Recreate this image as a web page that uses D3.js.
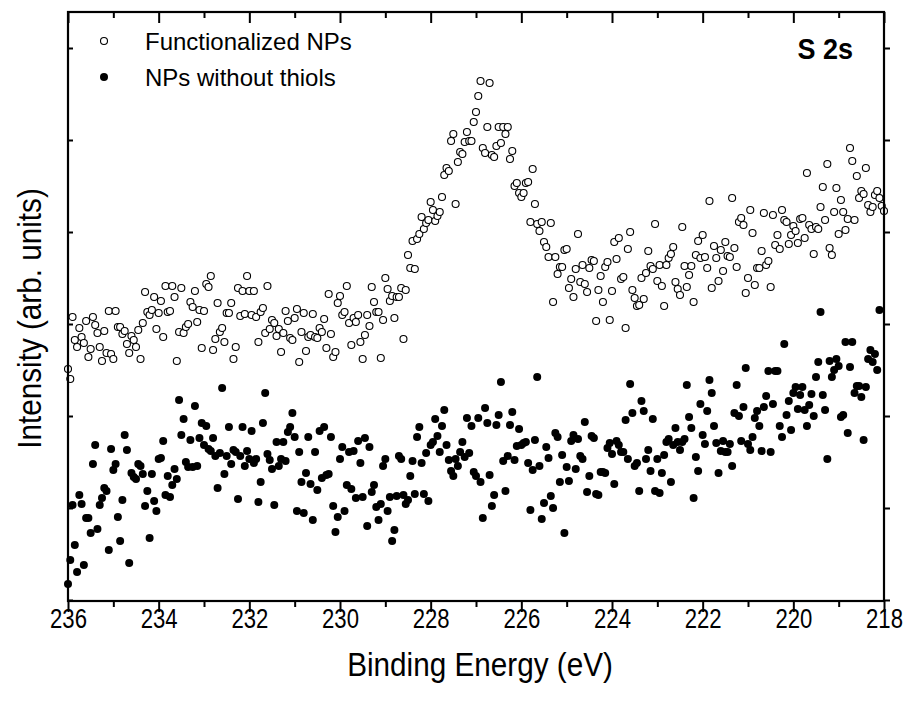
<!DOCTYPE html>
<html>
<head>
<meta charset="utf-8">
<script src="https://cdn.jsdelivr.net/npm/d3@7"></script>
<style>
  body { margin: 0; background: #fff; }
  text { font-family: "Liberation Sans", Arial, sans-serif; fill: #000; }
</style>
</head>
<body>
<script>
// XPS S 2s spectra, energy grid starts at 236 eV going down in 0.05 eV steps
var energyStart = 236;
var energyStep = 0.05;

// Intensity (arb. units) of functionalized NPs
var functionalized = [
  231,221,283,260,253,272,263,257,279,243,251,283,275,267,253,239,269,247,289,246,
  241,289,273,273,266,269,256,247,264,260,253,270,241,277,308,288,285,290,303,271,
  287,299,263,314,288,289,314,303,239,268,312,267,273,276,298,293,309,278,290,252,
  289,316,313,324,250,261,297,268,272,258,287,287,297,241,253,312,284,309,286,324,
  309,285,309,283,258,288,292,267,314,271,280,277,264,271,248,267,289,279,262,260,
  282,291,238,268,287,249,263,265,286,263,262,272,268,281,252,306,266,243,248,297,
  304,285,288,314,277,255,282,278,285,258,241,265,285,274,313,298,288,288,242,280,
  322,311,299,304,282,303,303,312,261,310,345,332,359,331,361,366,383,371,377,380,
  398,390,379,384,388,403,425,432,429,459,466,396,438,448,446,458,468,459,459,478,
  488,504,519,452,447,473,517,445,443,454,473,457,473,466,473,441,449,414,417,407,
  403,407,417,418,378,431,396,376,369,378,358,353,343,377,298,343,326,333,333,350,
  351,312,321,303,331,366,318,335,316,308,332,340,339,279,310,324,298,333,338,280,
  309,358,341,362,321,323,272,351,368,310,302,294,295,322,301,327,349,334,331,376,
  319,335,314,294,335,342,346,353,318,311,305,373,334,313,325,334,298,345,359,342,
  365,343,332,399,312,354,342,319,350,329,358,344,343,402,352,333,378,382,375,307,
  322,390,367,315,332,332,349,387,335,339,313,385,355,365,351,390,380,378,356,365,
  374,369,357,381,382,362,427,375,371,346,373,371,393,413,380,436,352,345,388,412,
  366,400,388,370,381,452,439,380,424,402,409,406,432,395,388,393,405,409,402,394,
  389
];

// Intensity (arb. units) of NPs without thiols
var withoutThiols = [
  16,40,95,55,28,105,96,35,82,82,67,136,155,71,95,102,112,109,50,151,
  130,136,83,59,100,165,150,37,127,123,121,136,134,126,94,109,62,126,99,89,
  141,142,159,105,124,103,115,131,121,200,165,181,138,133,160,133,194,134,162,177,
  155,174,151,149,162,144,112,147,212,126,144,173,136,150,148,101,144,173,134,149,
  141,169,137,141,98,118,177,207,146,140,131,95,158,134,141,158,139,168,173,187,
  163,89,148,118,87,127,163,116,80,148,110,169,122,173,125,126,163,94,68,83,
  141,153,89,115,148,111,149,102,159,137,103,162,74,153,108,115,93,80,96,134,
  141,89,103,59,70,104,144,141,105,96,100,124,139,106,163,173,137,106,147,99,
  155,158,181,164,148,174,190,155,140,129,124,141,134,148,158,143,182,147,174,128,
  124,182,118,82,192,177,125,94,105,175,185,218,139,109,144,175,188,140,154,171,
  155,157,158,137,90,130,160,223,134,81,97,153,142,104,92,167,163,118,145,67,
  133,119,159,165,131,161,144,141,178,108,124,164,162,106,105,128,128,127,152,157,
  146,116,159,155,148,148,180,141,216,187,134,137,109,199,189,141,150,129,181,109,
  141,107,127,145,158,161,118,155,172,158,150,158,161,215,183,172,102,143,129,196,
  165,156,189,220,207,174,157,127,149,159,148,148,156,134,187,215,184,159,193,232,
  156,150,163,182,189,174,149,193,204,229,148,196,229,229,174,163,256,185,199,170,
  207,213,191,205,213,190,174,195,206,184,223,238,288,205,190,141,239,223,230,241,
  234,183,185,258,167,233,258,207,214,214,203,160,213,241,250,238,246,230,290
];

var xTicksMajor = [236, 234, 232, 230, 228, 226, 224, 222, 220, 218];
var xTicksMinor = [235, 233, 231, 229, 227, 225, 223, 221, 219];
var yTicks = [0, 92, 184, 276, 368, 460, 552];

var legendLabels = ["Functionalized NPs", "NPs without thiols"];

var svgWidth = 910;
var svgHeight = 704;
var margin = { top: 12, right: 26, bottom: 103, left: 68 };
var width = svgWidth - margin.left - margin.right;
var height = svgHeight - margin.top - margin.bottom;

var svg = d3.select("body").append("svg")
  .attr("width", svgWidth)
  .attr("height", svgHeight);

var g = svg.append("g")
  .attr("transform", `translate(${margin.left},${margin.top})`);

var x = d3.scaleLinear().domain([236, 218]).range([0, width]);
var y = d3.scaleLinear().domain([-1, 588]).range([height, 0]);

function toPoints(values) {
  return values.map(function(v, i) {
    return { e: energyStart - i * energyStep, v: v };
  });
}

// data
g.selectAll(".filled")
  .data(toPoints(withoutThiols))
  .enter().append("circle")
  .attr("class", "filled")
  .attr("cx", d => x(d.e))
  .attr("cy", d => y(d.v))
  .attr("r", 4)
  .attr("fill", "#000");

g.selectAll(".open")
  .data(toPoints(functionalized))
  .enter().append("circle")
  .attr("class", "open")
  .attr("cx", d => x(d.e))
  .attr("cy", d => y(d.v))
  .attr("r", 3.5)
  .attr("fill", "#fff")
  .attr("stroke", "#000")
  .attr("stroke-width", 1.1);

// axes: all ticks point the same way (down / right)
function styleAxis(sel) {
  sel.select(".domain").remove();
  sel.selectAll(".tick line").attr("stroke", "#000").attr("stroke-width", 2);
}

var bottomMajor = g.append("g")
  .attr("transform", `translate(0,${height})`)
  .call(d3.axisBottom(x).tickValues(xTicksMajor).tickSize(11).tickPadding(-3).tickFormat(d3.format("d")));
styleAxis(bottomMajor);
// narrow-looking tick labels
bottomMajor.selectAll("text")
  .attr("font-size", 27)
  .attr("font-family", "Liberation Sans, Arial, sans-serif")
  .attr("transform", "scale(0.82,1)");

var bottomMinor = g.append("g")
  .attr("transform", `translate(0,${height})`)
  .call(d3.axisBottom(x).tickValues(xTicksMinor).tickSize(6).tickFormat(""));
styleAxis(bottomMinor);

var topMajor = g.append("g")
  .call(d3.axisBottom(x).tickValues(xTicksMajor).tickSize(11).tickFormat(""));
styleAxis(topMajor);
var topMinor = g.append("g")
  .call(d3.axisBottom(x).tickValues(xTicksMinor).tickSize(6).tickFormat(""));
styleAxis(topMinor);

var leftAxis = g.append("g")
  .call(d3.axisRight(y).tickValues(yTicks).tickSize(5).tickFormat(""));
styleAxis(leftAxis);
var rightAxis = g.append("g")
  .attr("transform", `translate(${width},0)`)
  .call(d3.axisRight(y).tickValues(yTicks).tickSize(6).tickFormat(""));
styleAxis(rightAxis);

// frame
g.append("rect")
  .attr("width", width)
  .attr("height", height)
  .attr("fill", "none")
  .attr("stroke", "#000")
  .attr("stroke-width", 2.2);

// axis titles
svg.append("g")
  .attr("transform", `translate(${margin.left + width / 2 + 4},676) scale(0.9,1)`)
  .append("text")
  .attr("text-anchor", "middle")
  .attr("font-size", 33)
  .text("Binding Energy (eV)");

svg.append("g")
  .attr("transform", `translate(41,${margin.top + height / 2 + 12}) rotate(-90) scale(0.9,1)`)
  .append("text")
  .attr("text-anchor", "middle")
  .attr("font-size", 33)
  .text("Intensity (arb. units)");

// legend
var legend = svg.append("g");
legendLabels.forEach(function(label, i) {
  var ly = 41 + i * 36;
  legend.append("circle")
    .attr("cx", 104)
    .attr("cy", ly)
    .attr("r", i === 0 ? 3.5 : 4)
    .attr("fill", i === 0 ? "#fff" : "#000")
    .attr("stroke", "#000")
    .attr("stroke-width", i === 0 ? 1.1 : 0);
  legend.append("text")
    .attr("x", 145)
    .attr("y", ly + 9)
    .attr("font-size", 24)
    .text(label);
});

svg.append("g")
  .attr("transform", "translate(853,59) scale(0.9,1)")
  .append("text")
  .attr("text-anchor", "end")
  .attr("font-size", 30)
  .attr("font-weight", "bold")
  .text("S 2s");
</script>
</body>
</html>
